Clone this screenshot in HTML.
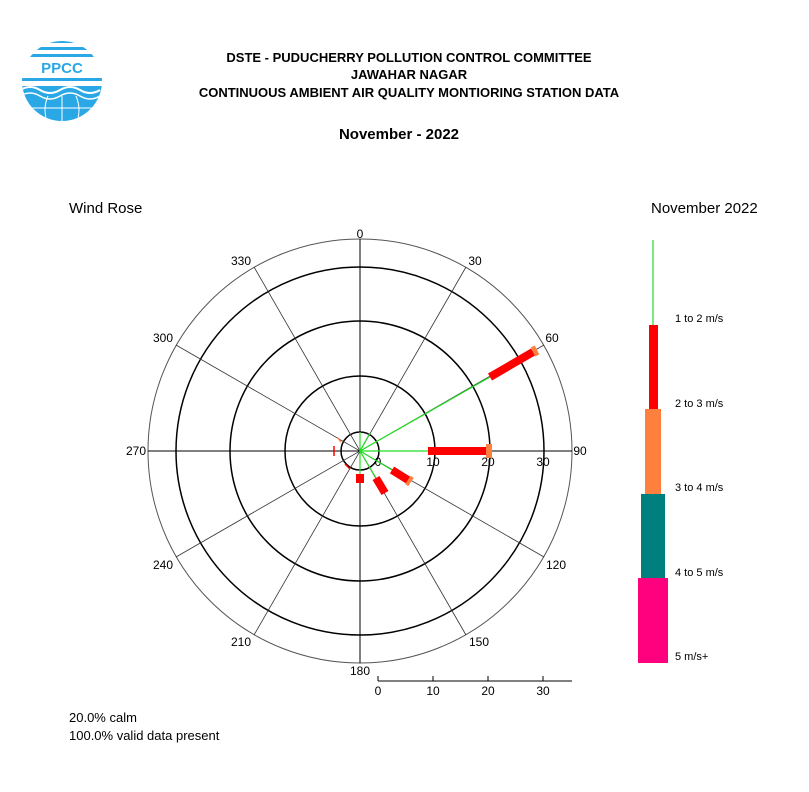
<!DOCTYPE html>
<html><head><style>
body{margin:0;background:#fff;font-family:"Liberation Sans",sans-serif;}
</style></head><body>
<svg width="809" height="787" xmlns="http://www.w3.org/2000/svg" font-family="Liberation Sans, sans-serif">
<rect width="809" height="787" fill="#fff"/>
<defs><clipPath id="lc"><circle cx="62" cy="81" r="40"/></clipPath></defs>
<g clip-path="url(#lc)">
<rect x="20" y="40" width="84" height="84" fill="#fff"/>
<rect x="20" y="40" width="84" height="3" fill="#2aa8e6"/>
<rect x="20" y="47" width="84" height="3" fill="#2aa8e6"/>
<rect x="20" y="54" width="84" height="3" fill="#2aa8e6"/>
<rect x="20" y="78" width="84" height="3" fill="#2aa8e6"/>
<rect x="20" y="86" width="84" height="40" fill="#2aa8e6"/>
<path d="M20 90 q10 -6 20 0 t20 0 t20 0 t20 0" stroke="#fff" stroke-width="2" fill="none"/>
<path d="M20 96 q10 -6 20 0 t20 0 t20 0 t20 0" stroke="#fff" stroke-width="1.5" fill="none"/>
<line x1="62" y1="96" x2="62" y2="124" stroke="#fff"/>
<path d="M48 96 q-6 14 0 28 M76 96 q6 14 0 28" stroke="#fff" fill="none"/>
<line x1="20" y1="108" x2="104" y2="108" stroke="#fff"/>
</g>
<text x="62" y="73" font-size="15" font-weight="bold" fill="#2aa8e6" text-anchor="middle">PPCC</text>
<g font-weight="bold" font-size="13" text-anchor="middle" fill="#000">
<text x="409" y="62">DSTE - PUDUCHERRY POLLUTION CONTROL COMMITTEE</text>
<text x="409" y="79">JAWAHAR NAGAR</text>
<text x="409" y="97">CONTINUOUS AMBIENT AIR QUALITY MONTIORING STATION DATA</text>
<text x="399" y="139" font-size="15">November - 2022</text>
</g>
<text x="69" y="213" font-size="15">Wind Rose</text>
<text x="651" y="213" font-size="15">November 2022</text>
<g fill="none" stroke="#000">
<circle cx="360" cy="451" r="212" stroke="#555"/>
<circle cx="360" cy="451" r="184" stroke-width="1.5"/>
<circle cx="360" cy="451" r="130" stroke-width="1.5"/>
<circle cx="360" cy="451" r="75" stroke-width="1.5"/>
<circle cx="360" cy="451" r="19" stroke-width="1.5"/>
<line x1="360" y1="239" x2="360" y2="663"/>
<line x1="148" y1="451" x2="572" y2="451"/>
<g stroke-width="0.8" stroke="#333">
<line x1="254" y1="267" x2="466" y2="635"/>
<line x1="466" y1="267" x2="254" y2="635"/>
<line x1="176" y1="345" x2="544" y2="557"/>
<line x1="176" y1="557" x2="544" y2="345"/>
</g>
</g>
<g font-size="12" text-anchor="middle">
<text x="360" y="238">0</text><text x="475" y="265">30</text><text x="552" y="342">60</text>
<text x="580" y="455">90</text><text x="556" y="569">120</text><text x="479" y="646">150</text>
<text x="360" y="675">180</text><text x="241" y="646">210</text><text x="163" y="569">240</text>
<text x="136" y="455">270</text><text x="163" y="342">300</text><text x="241" y="265">330</text>
<text x="378" y="466">0</text><text x="433" y="466">10</text><text x="488" y="466">20</text><text x="543" y="466">30</text>
</g>
<g stroke="#22dd22" stroke-width="1.2">
<line x1="360" y1="451" x2="428" y2="451"/>
<line x1="360" y1="451" x2="490" y2="377"/>
<line x1="360" y1="451" x2="392" y2="470"/>
<line x1="360" y1="451" x2="376" y2="478"/>
<line x1="360" y1="451" x2="360" y2="474"/>
<line x1="360" y1="451" x2="370" y2="433"/>
<line x1="360" y1="451" x2="360" y2="432"/>
</g>
<g stroke="#f00" stroke-width="8">
<line x1="428" y1="451" x2="488" y2="451"/>
<line x1="490" y1="377" x2="533" y2="352"/>
<line x1="392" y1="470" x2="408" y2="480"/>
<line x1="376" y1="478" x2="385" y2="493"/>
<line x1="360" y1="474" x2="360" y2="483"/>
</g>
<rect x="486" y="444" width="6" height="14" fill="#ff7f3f"/>
<line x1="533" y1="352" x2="537" y2="350" stroke="#ff7f3f" stroke-width="10"/>
<line x1="408" y1="480" x2="411" y2="482" stroke="#ff7f3f" stroke-width="10"/>
<line x1="334" y1="446" x2="334" y2="456" stroke="#f00" stroke-width="1.5"/>
<line x1="345" y1="464" x2="350" y2="469" stroke="#f00" stroke-width="1.5"/>
<line x1="338" y1="438" x2="341" y2="442" stroke="#ff7f3f" stroke-width="1.5"/>
<g stroke="#000">
<line x1="378" y1="681" x2="572" y2="681"/>
<line x1="378" y1="681" x2="378" y2="676"/><line x1="433" y1="681" x2="433" y2="676"/>
<line x1="488" y1="681" x2="488" y2="676"/><line x1="543" y1="681" x2="543" y2="676"/>
</g>
<g font-size="12" text-anchor="middle">
<text x="378" y="695">0</text><text x="433" y="695">10</text><text x="488" y="695">20</text><text x="543" y="695">30</text>
</g>
<line x1="653" y1="240" x2="653" y2="325" stroke="#22dd22" stroke-width="1.2"/>
<rect x="649" y="325" width="9" height="84" fill="#f00"/>
<rect x="645" y="409" width="16" height="85" fill="#ff7f3f"/>
<rect x="641" y="494" width="24" height="84" fill="#007f7f"/>
<rect x="638" y="578" width="30" height="85" fill="#ff007f"/>
<g font-size="11">
<text x="675" y="322">1 to 2 m/s</text><text x="675" y="407">2 to 3 m/s</text>
<text x="675" y="491">3 to 4 m/s</text><text x="675" y="576">4 to 5 m/s</text>
<text x="675" y="660">5 m/s+</text>
</g>
<g font-size="13"><text x="69" y="722">20.0% calm</text><text x="69" y="740">100.0% valid data present</text></g>
</svg>
</body></html>
